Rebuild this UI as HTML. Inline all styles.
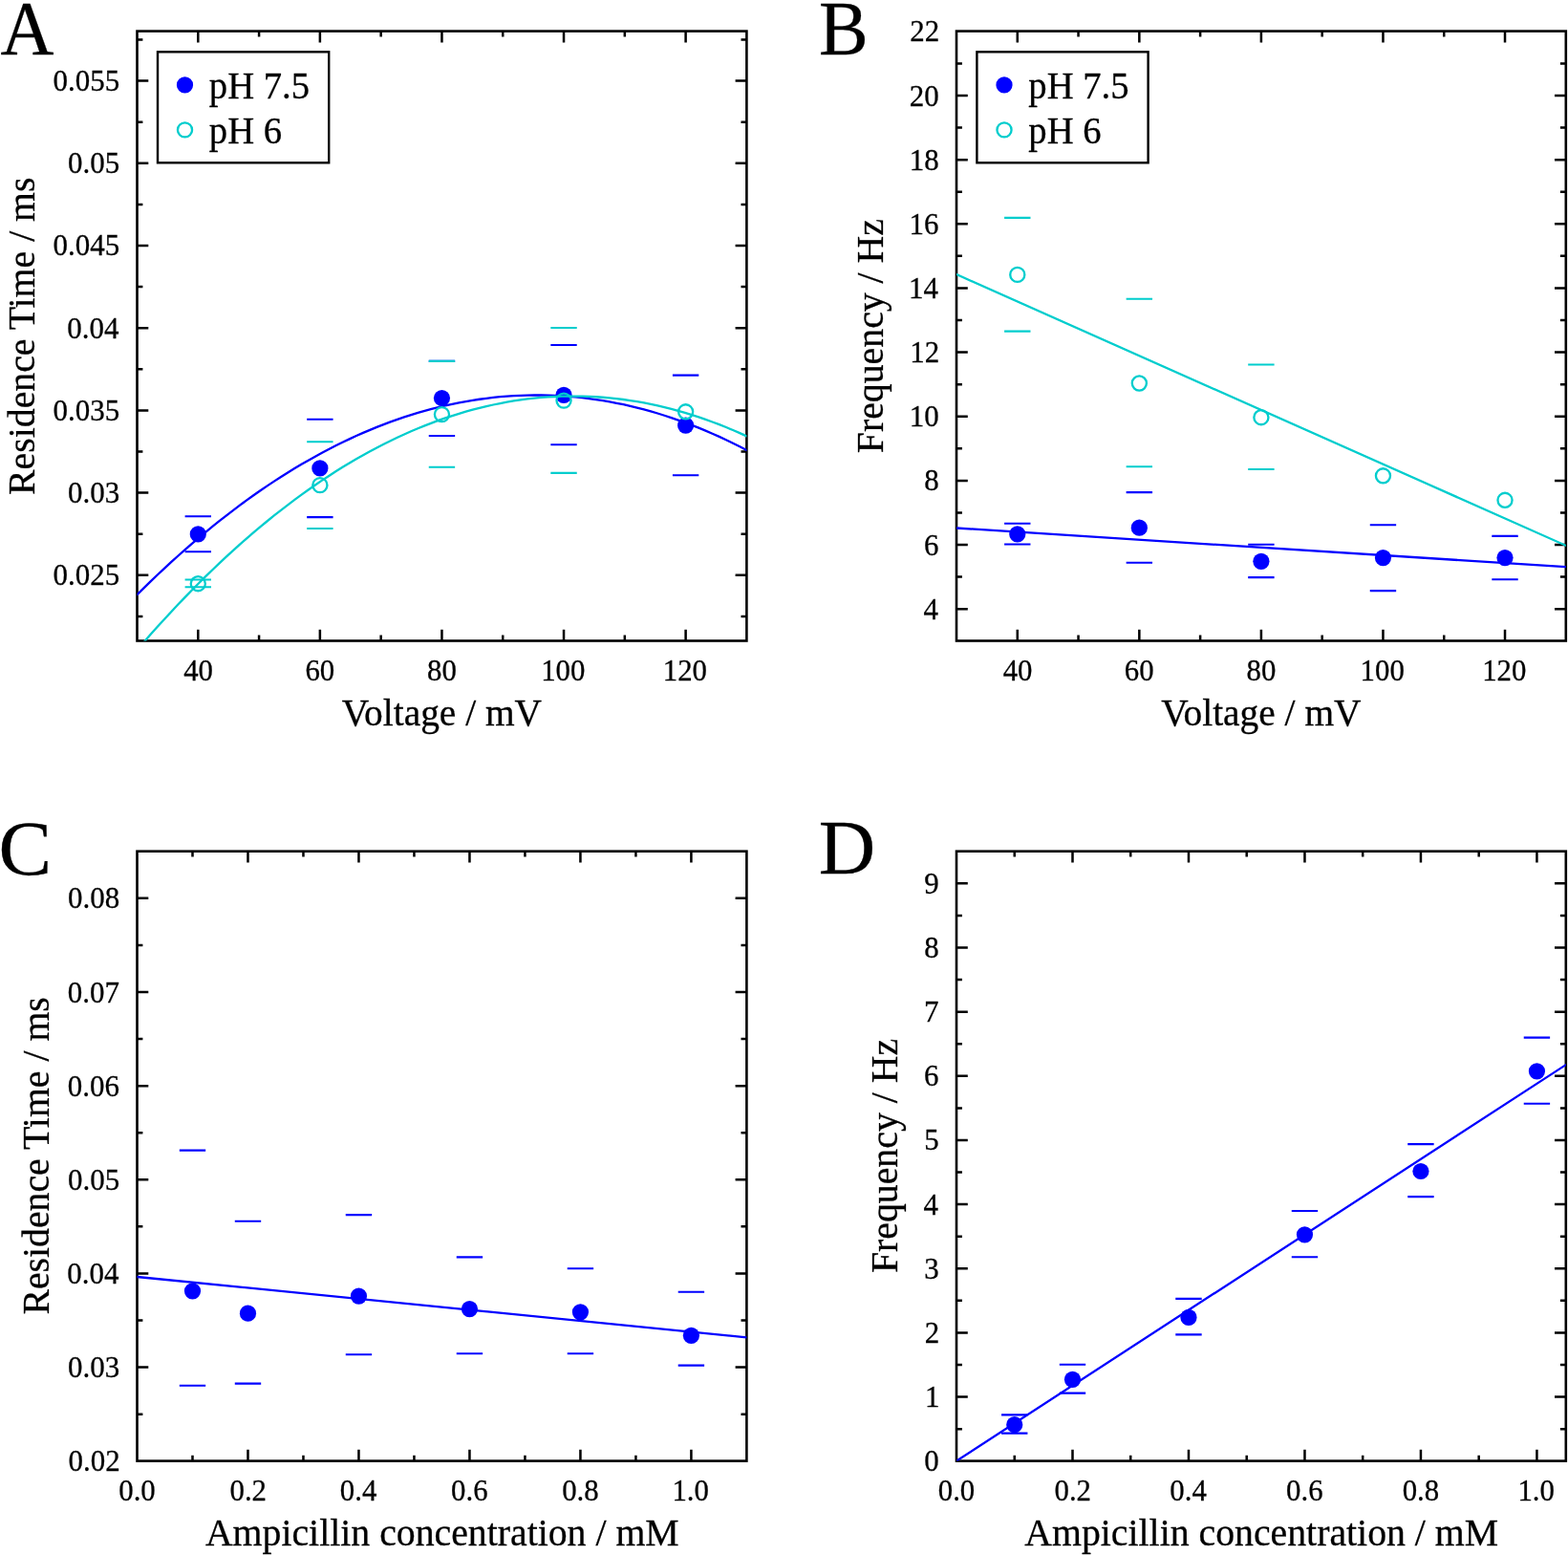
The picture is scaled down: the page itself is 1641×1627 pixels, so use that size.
<!DOCTYPE html>
<html lang="en">
<head>
<meta charset="utf-8">
<title>Residence time and frequency plots</title>
<style>
html,body{margin:0;padding:0;background:#fff;}
body{width:1641px;height:1627px;overflow:hidden;}
svg{display:block;font-family:"Liberation Serif", "DejaVu Serif", serif;fill:#000;}
text{stroke:#000;stroke-width:0.3px;}
</style>
</head>
<body>
<svg width="1641" height="1627" viewBox="0 0 1641 1627">
<rect width="1641" height="1627" fill="#fff"/>
<defs>
<clipPath id="ca"><rect x="143.5" y="32.6" width="637.9" height="637.9"/></clipPath>
<clipPath id="cb"><rect x="1001" y="32.6" width="637.8" height="637.9"/></clipPath>
<clipPath id="cc"><rect x="143.5" y="890.7" width="637.9" height="637.9"/></clipPath>
<clipPath id="cd"><rect x="1001" y="890.7" width="637.8" height="637.9"/></clipPath>
</defs>
<rect x="143.5" y="32.6" width="637.9" height="637.9" fill="none" stroke="#000" stroke-width="2.6"/>
<path d="M207.29 670.5v-11.8M207.29 32.6v11.8M334.87 670.5v-11.8M334.87 32.6v11.8M462.45 670.5v-11.8M462.45 32.6v11.8M590.03 670.5v-11.8M590.03 32.6v11.8M717.61 670.5v-11.8M717.61 32.6v11.8M271.08 670.5v-5.9M271.08 32.6v5.9M398.66 670.5v-5.9M398.66 32.6v5.9M526.24 670.5v-5.9M526.24 32.6v5.9M653.82 670.5v-5.9M653.82 32.6v5.9M143.5 601.79h11.8M781.4 601.79h-11.8M143.5 515.59h11.8M781.4 515.59h-11.8M143.5 429.38h11.8M781.4 429.38h-11.8M143.5 343.18h11.8M781.4 343.18h-11.8M143.5 256.98h11.8M781.4 256.98h-11.8M143.5 170.77h11.8M781.4 170.77h-11.8M143.5 84.57h11.8M781.4 84.57h-11.8M143.5 644.89h5.9M781.4 644.89h-5.9M143.5 558.69h5.9M781.4 558.69h-5.9M143.5 472.48h5.9M781.4 472.48h-5.9M143.5 386.28h5.9M781.4 386.28h-5.9M143.5 300.08h5.9M781.4 300.08h-5.9M143.5 213.88h5.9M781.4 213.88h-5.9M143.5 127.67h5.9M781.4 127.67h-5.9M143.5 41.47h5.9M781.4 41.47h-5.9" fill="none" stroke="#000" stroke-width="2.5"/>
<g font-size="32.6">
<text transform="translate(192.17 711.8) scale(0.945 1)">40</text>
<text transform="translate(319.39 711.8) scale(0.945 1)">60</text>
<text transform="translate(447.05 711.8) scale(0.945 1)">80</text>
<text transform="translate(566.16 711.8) scale(0.945 1)">100</text>
<text transform="translate(693.74 711.8) scale(0.945 1)">120</text>
<text transform="translate(55.58 612.29) scale(0.95 1)">0.025</text>
<text transform="translate(71.06 526.09) scale(0.95 1)">0.03</text>
<text transform="translate(55.58 439.88) scale(0.95 1)">0.035</text>
<text transform="translate(70.34 353.68) scale(0.95 1)">0.04</text>
<text transform="translate(55.58 267.48) scale(0.95 1)">0.045</text>
<text transform="translate(71.06 181.27) scale(0.95 1)">0.05</text>
<text transform="translate(55.58 95.07) scale(0.95 1)">0.055</text>
</g>
<polyline points="143.5,622.19 150.67,615.1 157.83,608.13 165,601.28 172.17,594.56 179.34,587.96 186.5,581.48 193.67,575.13 200.84,568.89 208.01,562.78 215.17,556.79 222.34,550.93 229.51,545.19 236.68,539.57 243.84,534.07 251.01,528.69 258.18,523.44 265.35,518.31 272.51,513.3 279.68,508.42 286.85,503.66 294.02,499.02 301.18,494.5 308.35,490.1 315.52,485.83 322.69,481.68 329.85,477.65 337.02,473.75 344.19,469.97 351.36,466.31 358.52,462.77 365.69,459.36 372.86,456.06 380.02,452.89 387.19,449.85 394.36,446.92 401.53,444.12 408.69,441.44 415.86,438.88 423.03,436.45 430.2,434.14 437.36,431.95 444.53,429.88 451.7,427.94 458.87,426.11 466.03,424.42 473.2,422.84 480.37,421.38 487.54,420.05 494.7,418.84 501.87,417.76 509.04,416.79 516.21,415.95 523.37,415.23 530.54,414.64 537.71,414.16 544.88,413.81 552.04,413.58 559.21,413.48 566.38,413.49 573.54,413.63 580.71,413.89 587.88,414.27 595.05,414.78 602.21,415.41 609.38,416.16 616.55,417.04 623.72,418.03 630.88,419.15 638.05,420.39 645.22,421.76 652.39,423.24 659.55,424.85 666.72,426.58 673.89,428.44 681.06,430.41 688.22,432.51 695.39,434.73 702.56,437.08 709.73,439.55 716.89,442.13 724.06,444.85 731.23,447.68 738.4,450.64 745.56,453.72 752.73,456.92 759.9,460.24 767.07,463.69 774.23,467.26 781.4,470.95" fill="none" stroke="#0000ff" stroke-width="2.3" stroke-linecap="round" stroke-linejoin="round" clip-path="url(#ca)"/>
<path d="M193.59 540.3h27.4M193.59 577.2h27.4M321.17 438.7h27.4M321.17 541.1h27.4M448.75 377.9h27.4M448.75 456h27.4M576.33 361h27.4M576.33 465.2h27.4M703.91 392.6h27.4M703.91 497.3h27.4" fill="none" stroke="#0000ff" stroke-width="2.1"/>
<circle cx="207.29" cy="558.9" r="8.6" fill="#0000ff"/>
<circle cx="334.87" cy="489.9" r="8.6" fill="#0000ff"/>
<circle cx="462.45" cy="416.5" r="8.6" fill="#0000ff"/>
<circle cx="590.03" cy="413.3" r="8.6" fill="#0000ff"/>
<circle cx="717.61" cy="445.1" r="8.6" fill="#0000ff"/>
<polyline points="143.5,679.95 150.67,671.68 157.83,663.54 165,655.54 172.17,647.66 179.34,639.92 186.5,632.31 193.67,624.83 200.84,617.47 208.01,610.25 215.17,603.17 222.34,596.21 229.51,589.38 236.68,582.68 243.84,576.11 251.01,569.68 258.18,563.37 265.35,557.2 272.51,551.16 279.68,545.24 286.85,539.46 294.02,533.81 301.18,528.29 308.35,522.9 315.52,517.64 322.69,512.52 329.85,507.52 337.02,502.65 344.19,497.92 351.36,493.31 358.52,488.84 365.69,484.49 372.86,480.28 380.02,476.2 387.19,472.25 394.36,468.43 401.53,464.74 408.69,461.18 415.86,457.75 423.03,454.46 430.2,451.29 437.36,448.26 444.53,445.35 451.7,442.58 458.87,439.93 466.03,437.42 473.2,435.04 480.37,432.79 487.54,430.67 494.7,428.68 501.87,426.82 509.04,425.1 516.21,423.5 523.37,422.03 530.54,420.7 537.71,419.49 544.88,418.42 552.04,417.48 559.21,416.67 566.38,415.98 573.54,415.43 580.71,415.01 587.88,414.72 595.05,414.57 602.21,414.54 609.38,414.64 616.55,414.88 623.72,415.24 630.88,415.74 638.05,416.36 645.22,417.12 652.39,418.01 659.55,419.03 666.72,420.18 673.89,421.46 681.06,422.87 688.22,424.41 695.39,426.09 702.56,427.89 709.73,429.82 716.89,431.89 724.06,434.08 731.23,436.41 738.4,438.87 745.56,441.46 752.73,444.18 759.9,447.03 767.07,450.01 774.23,453.12 781.4,456.36" fill="none" stroke="#00cdcd" stroke-width="2.3" stroke-linecap="round" stroke-linejoin="round" clip-path="url(#ca)"/>
<path d="M193.59 606.5h27.4M193.59 614.2h27.4M321.17 462.3h27.4M321.17 553h27.4M448.75 377.9h27.4M448.75 488.7h27.4M576.33 343h27.4M576.33 494.9h27.4" fill="none" stroke="#00cdcd" stroke-width="2.1"/>
<circle cx="207.29" cy="610.7" r="7.55" fill="none" stroke="#00cdcd" stroke-width="2.3"/>
<circle cx="334.87" cy="507.6" r="7.55" fill="none" stroke="#00cdcd" stroke-width="2.3"/>
<circle cx="462.45" cy="433.6" r="7.55" fill="none" stroke="#00cdcd" stroke-width="2.3"/>
<circle cx="590.03" cy="419.1" r="7.55" fill="none" stroke="#00cdcd" stroke-width="2.3"/>
<circle cx="717.61" cy="430.8" r="7.55" fill="none" stroke="#00cdcd" stroke-width="2.3"/>
<rect x="165" y="54.3" width="179.2" height="116" fill="#fff" stroke="#000" stroke-width="2.4"/>
<circle cx="193.5" cy="88.9" r="8.6" fill="#0000ff"/>
<circle cx="193.5" cy="135.9" r="7.55" fill="none" stroke="#00cdcd" stroke-width="2.3"/>
<g font-size="40.5"><text transform="translate(218.8 102.5) scale(0.955 1)">pH 7.5</text><text transform="translate(218.8 150.1) scale(0.955 1)">pH 6</text></g>
<text transform="translate(462.4 759.2) scale(0.973 1)" font-size="40.5" text-anchor="middle">Voltage / mV</text>
<text transform="translate(35.5 351.7) rotate(-90) scale(0.982 1)" font-size="40.5" text-anchor="middle">Residence Time / ms</text>
<text transform="translate(0.6 56.6) scale(0.957 1)" font-size="81">A</text>
<rect x="1001" y="32.6" width="637.8" height="637.9" fill="none" stroke="#000" stroke-width="2.6"/>
<path d="M1064.78 670.5v-11.8M1064.78 32.6v11.8M1192.34 670.5v-11.8M1192.34 32.6v11.8M1319.9 670.5v-11.8M1319.9 32.6v11.8M1447.46 670.5v-11.8M1447.46 32.6v11.8M1575.02 670.5v-11.8M1575.02 32.6v11.8M1128.56 670.5v-5.9M1128.56 32.6v5.9M1256.12 670.5v-5.9M1256.12 32.6v5.9M1383.68 670.5v-5.9M1383.68 32.6v5.9M1511.24 670.5v-5.9M1511.24 32.6v5.9M1001 637.18h11.8M1638.8 637.18h-11.8M1001 570.03h11.8M1638.8 570.03h-11.8M1001 502.88h11.8M1638.8 502.88h-11.8M1001 435.73h11.8M1638.8 435.73h-11.8M1001 368.59h11.8M1638.8 368.59h-11.8M1001 301.44h11.8M1638.8 301.44h-11.8M1001 234.29h11.8M1638.8 234.29h-11.8M1001 167.14h11.8M1638.8 167.14h-11.8M1001 100h11.8M1638.8 100h-11.8M1001 603.6h5.9M1638.8 603.6h-5.9M1001 536.46h5.9M1638.8 536.46h-5.9M1001 469.31h5.9M1638.8 469.31h-5.9M1001 402.16h5.9M1638.8 402.16h-5.9M1001 335.01h5.9M1638.8 335.01h-5.9M1001 267.87h5.9M1638.8 267.87h-5.9M1001 200.72h5.9M1638.8 200.72h-5.9M1001 133.57h5.9M1638.8 133.57h-5.9M1001 66.42h5.9M1638.8 66.42h-5.9" fill="none" stroke="#000" stroke-width="2.5"/>
<g font-size="32.6">
<text transform="translate(1049.66 711.8) scale(0.945 1)">40</text>
<text transform="translate(1176.86 711.8) scale(0.945 1)">60</text>
<text transform="translate(1304.5 711.8) scale(0.945 1)">80</text>
<text transform="translate(1423.59 711.8) scale(0.945 1)">100</text>
<text transform="translate(1551.15 711.8) scale(0.945 1)">120</text>
<text transform="translate(966.55 647.68) scale(0.95 1)">4</text>
<text transform="translate(966.99 580.53) scale(0.95 1)">6</text>
<text transform="translate(967.24 513.38) scale(0.95 1)">8</text>
<text transform="translate(951.76 446.23) scale(0.95 1)">10</text>
<text transform="translate(952.29 379.09) scale(0.95 1)">12</text>
<text transform="translate(951.06 311.94) scale(0.95 1)">14</text>
<text transform="translate(951.5 244.79) scale(0.95 1)">16</text>
<text transform="translate(951.76 177.64) scale(0.95 1)">18</text>
<text transform="translate(951.76 110.5) scale(0.95 1)">20</text>
<text transform="translate(952.29 43.35) scale(0.95 1)">22</text>
</g>
<polyline points="1001,552.5 1638.8,593.2" fill="none" stroke="#0000ff" stroke-width="2.3" stroke-linecap="round" stroke-linejoin="round" clip-path="url(#cb)"/>
<path d="M1051.08 547.8h27.4M1051.08 569.5h27.4M1178.64 515.1h27.4M1178.64 588.7h27.4M1306.2 569.8h27.4M1306.2 604.1h27.4M1433.76 549.3h27.4M1433.76 618.1h27.4M1561.32 560.9h27.4M1561.32 606.2h27.4" fill="none" stroke="#0000ff" stroke-width="2.1"/>
<circle cx="1064.78" cy="558.9" r="8.6" fill="#0000ff"/>
<circle cx="1192.34" cy="552.2" r="8.6" fill="#0000ff"/>
<circle cx="1319.9" cy="587.3" r="8.6" fill="#0000ff"/>
<circle cx="1447.46" cy="583.6" r="8.6" fill="#0000ff"/>
<circle cx="1575.02" cy="583.6" r="8.6" fill="#0000ff"/>
<polyline points="1001,287.1 1638.8,570.8" fill="none" stroke="#00cdcd" stroke-width="2.3" stroke-linecap="round" stroke-linejoin="round" clip-path="url(#cb)"/>
<path d="M1051.08 227.9h27.4M1051.08 346.6h27.4M1178.64 312.8h27.4M1178.64 488.3h27.4M1306.2 381.5h27.4M1306.2 491h27.4" fill="none" stroke="#00cdcd" stroke-width="2.1"/>
<circle cx="1064.78" cy="287.4" r="7.55" fill="none" stroke="#00cdcd" stroke-width="2.3"/>
<circle cx="1192.34" cy="401" r="7.55" fill="none" stroke="#00cdcd" stroke-width="2.3"/>
<circle cx="1319.9" cy="436.7" r="7.55" fill="none" stroke="#00cdcd" stroke-width="2.3"/>
<circle cx="1447.46" cy="497.8" r="7.55" fill="none" stroke="#00cdcd" stroke-width="2.3"/>
<circle cx="1575.02" cy="523.3" r="7.55" fill="none" stroke="#00cdcd" stroke-width="2.3"/>
<rect x="1022.4" y="54.3" width="179.2" height="116" fill="#fff" stroke="#000" stroke-width="2.4"/>
<circle cx="1051" cy="88.9" r="8.6" fill="#0000ff"/>
<circle cx="1051" cy="135.9" r="7.55" fill="none" stroke="#00cdcd" stroke-width="2.3"/>
<g font-size="40.5"><text transform="translate(1076.3 102.5) scale(0.955 1)">pH 7.5</text><text transform="translate(1076.3 150.1) scale(0.955 1)">pH 6</text></g>
<text transform="translate(1319.8 759.2) scale(0.973 1)" font-size="40.5" text-anchor="middle">Voltage / mV</text>
<text transform="translate(924.2 351.6) rotate(-90) scale(0.982 1)" font-size="40.5" text-anchor="middle">Frequency / Hz</text>
<text transform="translate(856.9 56.5) scale(0.957 1)" font-size="81">B</text>
<rect x="143.5" y="890.7" width="637.9" height="637.9" fill="none" stroke="#000" stroke-width="2.6"/>
<path d="M259.48 1528.6v-11.8M259.48 890.7v11.8M375.46 1528.6v-11.8M375.46 890.7v11.8M491.45 1528.6v-11.8M491.45 890.7v11.8M607.43 1528.6v-11.8M607.43 890.7v11.8M723.41 1528.6v-11.8M723.41 890.7v11.8M201.49 1528.6v-5.9M201.49 890.7v5.9M317.47 1528.6v-5.9M317.47 890.7v5.9M433.45 1528.6v-5.9M433.45 890.7v5.9M549.44 1528.6v-5.9M549.44 890.7v5.9M665.42 1528.6v-5.9M665.42 890.7v5.9M143.5 1430.56h11.8M781.4 1430.56h-11.8M143.5 1332.42h11.8M781.4 1332.42h-11.8M143.5 1234.28h11.8M781.4 1234.28h-11.8M143.5 1136.15h11.8M781.4 1136.15h-11.8M143.5 1038.01h11.8M781.4 1038.01h-11.8M143.5 939.87h11.8M781.4 939.87h-11.8M143.5 1479.63h5.9M781.4 1479.63h-5.9M143.5 1381.49h5.9M781.4 1381.49h-5.9M143.5 1283.35h5.9M781.4 1283.35h-5.9M143.5 1185.22h5.9M781.4 1185.22h-5.9M143.5 1087.08h5.9M781.4 1087.08h-5.9M143.5 988.94h5.9M781.4 988.94h-5.9" fill="none" stroke="#000" stroke-width="2.5"/>
<g font-size="32.6">
<text transform="translate(124.25 1570.1) scale(0.945 1)">0.0</text>
<text transform="translate(240.49 1570.1) scale(0.945 1)">0.2</text>
<text transform="translate(355.86 1570.1) scale(0.945 1)">0.4</text>
<text transform="translate(472.06 1570.1) scale(0.945 1)">0.6</text>
<text transform="translate(588.17 1570.1) scale(0.945 1)">0.8</text>
<text transform="translate(703.39 1570.1) scale(0.945 1)">1.0</text>
<text transform="translate(71.56 1539.2) scale(0.95 1)">0.02</text>
<text transform="translate(71.06 1441.06) scale(0.95 1)">0.03</text>
<text transform="translate(70.34 1342.92) scale(0.95 1)">0.04</text>
<text transform="translate(71.06 1244.78) scale(0.95 1)">0.05</text>
<text transform="translate(70.77 1146.65) scale(0.95 1)">0.06</text>
<text transform="translate(70.74 1048.51) scale(0.95 1)">0.07</text>
<text transform="translate(71.03 950.37) scale(0.95 1)">0.08</text>
</g>
<polyline points="143.5,1336 781.4,1399.3" fill="none" stroke="#0000ff" stroke-width="2.3" stroke-linecap="round" stroke-linejoin="round" clip-path="url(#cc)"/>
<path d="M187.79 1203.6h27.4M187.79 1449.7h27.4M245.78 1277.7h27.4M245.78 1447.6h27.4M361.76 1271.1h27.4M361.76 1417.3h27.4M477.75 1315.4h27.4M477.75 1416.3h27.4M593.73 1327.3h27.4M593.73 1416.3h27.4M709.71 1351.7h27.4M709.71 1428.6h27.4" fill="none" stroke="#0000ff" stroke-width="2.1"/>
<circle cx="201.49" cy="1350.8" r="8.6" fill="#0000ff"/>
<circle cx="259.48" cy="1374.2" r="8.6" fill="#0000ff"/>
<circle cx="375.46" cy="1356.1" r="8.6" fill="#0000ff"/>
<circle cx="491.45" cy="1369.6" r="8.6" fill="#0000ff"/>
<circle cx="607.43" cy="1372.8" r="8.6" fill="#0000ff"/>
<circle cx="723.41" cy="1397.3" r="8.6" fill="#0000ff"/>
<text transform="translate(462.8 1616.8) scale(0.982 1)" font-size="40.5" text-anchor="middle">Ampicillin concentration / mM</text>
<text transform="translate(51 1209.4) rotate(-90) scale(0.982 1)" font-size="40.5" text-anchor="middle">Residence Time / ms</text>
<text transform="translate(-1.5 914.9) scale(1.03 1)" font-size="81">C</text>
<rect x="1001" y="890.7" width="637.8" height="637.9" fill="none" stroke="#000" stroke-width="2.6"/>
<path d="M1122.49 1528.6v-11.8M1122.49 890.7v11.8M1243.97 1528.6v-11.8M1243.97 890.7v11.8M1365.46 1528.6v-11.8M1365.46 890.7v11.8M1486.94 1528.6v-11.8M1486.94 890.7v11.8M1608.43 1528.6v-11.8M1608.43 890.7v11.8M1061.74 1528.6v-5.9M1061.74 890.7v5.9M1183.23 1528.6v-5.9M1183.23 890.7v5.9M1304.71 1528.6v-5.9M1304.71 890.7v5.9M1426.2 1528.6v-5.9M1426.2 890.7v5.9M1547.69 1528.6v-5.9M1547.69 890.7v5.9M1001 1461.55h11.8M1638.8 1461.55h-11.8M1001 1394.41h11.8M1638.8 1394.41h-11.8M1001 1327.26h11.8M1638.8 1327.26h-11.8M1001 1260.11h11.8M1638.8 1260.11h-11.8M1001 1192.96h11.8M1638.8 1192.96h-11.8M1001 1125.82h11.8M1638.8 1125.82h-11.8M1001 1058.67h11.8M1638.8 1058.67h-11.8M1001 991.52h11.8M1638.8 991.52h-11.8M1001 924.37h11.8M1638.8 924.37h-11.8M1001 1495.13h5.9M1638.8 1495.13h-5.9M1001 1427.98h5.9M1638.8 1427.98h-5.9M1001 1360.83h5.9M1638.8 1360.83h-5.9M1001 1293.68h5.9M1638.8 1293.68h-5.9M1001 1226.54h5.9M1638.8 1226.54h-5.9M1001 1159.39h5.9M1638.8 1159.39h-5.9M1001 1092.24h5.9M1638.8 1092.24h-5.9M1001 1025.09h5.9M1638.8 1025.09h-5.9M1001 957.95h5.9M1638.8 957.95h-5.9" fill="none" stroke="#000" stroke-width="2.5"/>
<g font-size="32.6">
<text transform="translate(981.75 1570.1) scale(0.945 1)">0.0</text>
<text transform="translate(1103.49 1570.1) scale(0.945 1)">0.2</text>
<text transform="translate(1224.37 1570.1) scale(0.945 1)">0.4</text>
<text transform="translate(1346.07 1570.1) scale(0.945 1)">0.6</text>
<text transform="translate(1467.69 1570.1) scale(0.945 1)">0.8</text>
<text transform="translate(1588.41 1570.1) scale(0.945 1)">1.0</text>
<text transform="translate(967.24 1539.2) scale(0.95 1)">0</text>
<text transform="translate(967.93 1472.05) scale(0.95 1)">1</text>
<text transform="translate(967.77 1404.91) scale(0.95 1)">2</text>
<text transform="translate(967.27 1337.76) scale(0.95 1)">3</text>
<text transform="translate(966.55 1270.61) scale(0.95 1)">4</text>
<text transform="translate(967.27 1203.46) scale(0.95 1)">5</text>
<text transform="translate(966.99 1136.32) scale(0.95 1)">6</text>
<text transform="translate(966.96 1069.17) scale(0.95 1)">7</text>
<text transform="translate(967.24 1002.02) scale(0.95 1)">8</text>
<text transform="translate(967.34 934.87) scale(0.95 1)">9</text>
</g>
<polyline points="1001,1528.6 1638.8,1114.1" fill="none" stroke="#0000ff" stroke-width="2.3" stroke-linecap="round" stroke-linejoin="round" clip-path="url(#cd)"/>
<path d="M1048.04 1480.4h27.4M1048.04 1499.6h27.4M1108.79 1427.7h27.4M1108.79 1457.6h27.4M1230.27 1358.9h27.4M1230.27 1396.4h27.4M1351.76 1267h27.4M1351.76 1315.3h27.4M1473.24 1197.1h27.4M1473.24 1252.1h27.4M1594.73 1085.6h27.4M1594.73 1154.7h27.4" fill="none" stroke="#0000ff" stroke-width="2.1"/>
<circle cx="1061.74" cy="1490.7" r="8.6" fill="#0000ff"/>
<circle cx="1122.49" cy="1443.3" r="8.6" fill="#0000ff"/>
<circle cx="1243.97" cy="1378.4" r="8.6" fill="#0000ff"/>
<circle cx="1365.46" cy="1291.8" r="8.6" fill="#0000ff"/>
<circle cx="1486.94" cy="1225.5" r="8.6" fill="#0000ff"/>
<circle cx="1608.43" cy="1120.8" r="8.6" fill="#0000ff"/>
<text transform="translate(1320.2 1616.8) scale(0.982 1)" font-size="40.5" text-anchor="middle">Ampicillin concentration / mM</text>
<text transform="translate(939.1 1209.5) rotate(-90) scale(0.982 1)" font-size="40.5" text-anchor="middle">Frequency / Hz</text>
<text transform="translate(856.7 914.4) scale(1.016 1)" font-size="81">D</text>
</svg>
</body>
</html>
